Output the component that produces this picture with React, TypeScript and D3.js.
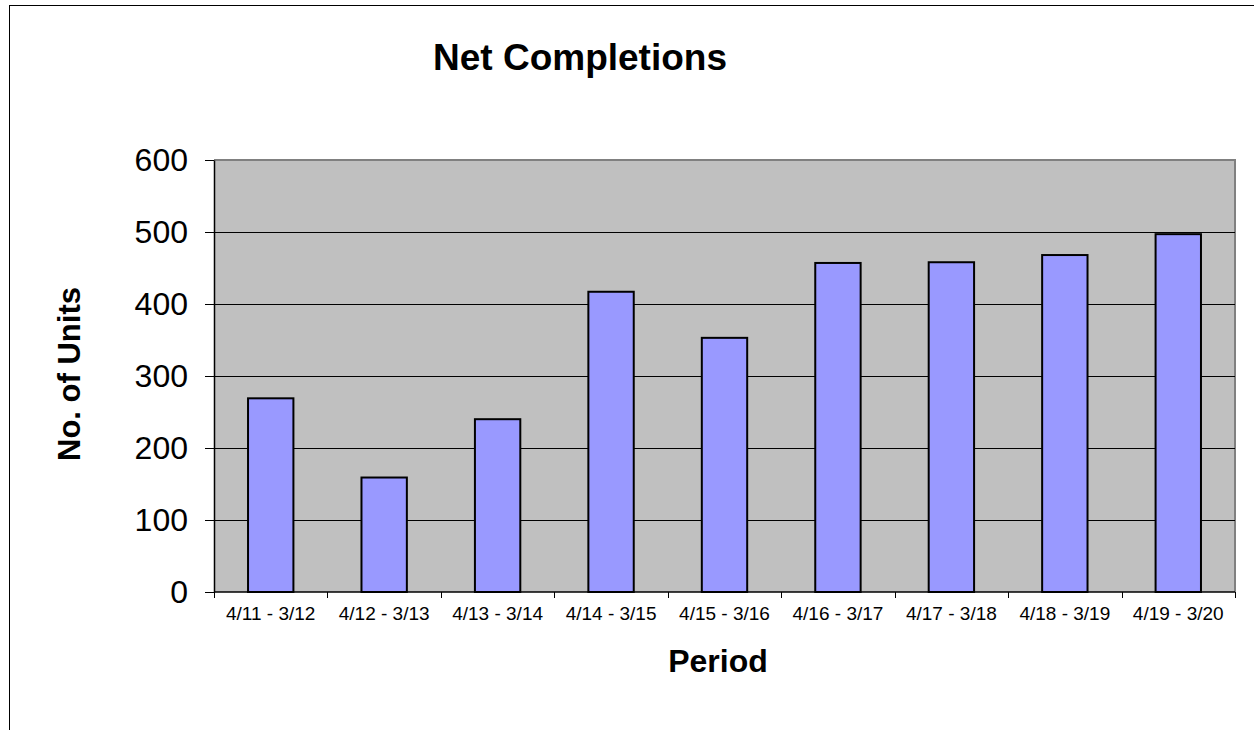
import { useEffect, useRef } from 'react';
import * as d3 from 'd3';

const periods = [
  '4/11 - 3/12', '4/12 - 3/13', '4/13 - 3/14', '4/14 - 3/15', '4/15 - 3/16',
  '4/16 - 3/17', '4/17 - 3/18', '4/18 - 3/19', '4/19 - 3/20',
];
const units = [269, 159, 240, 417, 353, 457, 458, 468, 497];
const yTicks = [0, 100, 200, 300, 400, 500, 600];

export default function App() {
  const ref = useRef<SVGSVGElement>(null);

  useEffect(() => {
    document.body.style.margin = '0';
    const svgEl = ref.current;
    if (!svgEl) return;
    const svg = d3.select(svgEl);
    svg.selectAll('*').remove();

    const W = 1254, H = 730;
    const left = 214, right = 1235, top = 160, bottom = 592;
    const font = '"Liberation Sans", Arial, sans-serif';

    // outer chart border
    svg.append('rect').attr('x', 9.5).attr('y', 5.5).attr('width', W + 20).attr('height', H + 20)
      .attr('fill', '#fff').attr('stroke', '#000').attr('stroke-width', 1);

    const x = d3.scaleBand().domain(periods).range([left, right]).paddingInner(0.6).paddingOuter(0.3);
    const y = d3.scaleLinear().domain([0, 600]).range([bottom, top]);

    // plot area
    svg.append('rect').attr('x', left).attr('y', top).attr('width', right - left).attr('height', bottom - top)
      .attr('fill', '#c0c0c0');
    svg.append('path')
      .attr('d', `M${left},${top}H${right}V${bottom}`)
      .attr('fill', 'none').attr('stroke', '#808080').attr('stroke-width', 2);

    // gridlines
    svg.append('g').selectAll('line').data(yTicks.filter(t => t > 0 && t < 600)).enter().append('line')
      .attr('x1', left).attr('x2', right)
      .attr('y1', d => Math.round(y(d)) + 0.5).attr('y2', d => Math.round(y(d)) + 0.5)
      .attr('stroke', '#000').attr('stroke-width', 1);

    // bars
    svg.append('g').selectAll('rect').data(units).enter().append('rect')
      .attr('x', (_, i) => x(periods[i])!)
      .attr('width', x.bandwidth())
      .attr('y', d => y(d))
      .attr('height', d => bottom - y(d))
      .attr('fill', '#9999ff').attr('stroke', '#000').attr('stroke-width', 2);

    // y axis
    svg.append('g').attr('transform', `translate(${left},0)`)
      .call(d3.axisLeft(y).tickValues(yTicks).tickSize(9).tickPadding(17).tickSizeOuter(0))
      .call(g => g.select('.domain').attr('stroke', '#000').attr('stroke-width', 1.5))
      .call(g => g.selectAll('.tick line').attr('stroke', '#000'))
      .call(g => g.selectAll('.tick text').attr('font-family', font).attr('font-size', 32).attr('fill', '#000'));

    // x axis, ticks at category boundaries
    const step = x.step();
    const boundaries = d3.range(periods.length + 1).map(i => x(periods[0])! - step * 0.3 + i * step);
    const xa = svg.append('g');
    xa.append('line').attr('x1', left).attr('x2', right).attr('y1', bottom).attr('y2', bottom)
      .attr('stroke', '#000').attr('stroke-width', 1.5);
    xa.selectAll('.bt').data(boundaries).enter().append('line')
      .attr('x1', d => Math.round(d) + 0.5).attr('x2', d => Math.round(d) + 0.5)
      .attr('y1', bottom).attr('y2', bottom + 6).attr('stroke', '#000');
    xa.selectAll('text').data(periods).enter().append('text')
      .attr('x', d => x(d)! + x.bandwidth() / 2).attr('y', 620)
      .attr('text-anchor', 'middle').attr('font-family', font).attr('font-size', 19)
      .text(d => d);

    // titles
    svg.append('text').attr('x', 580).attr('y', 70).attr('text-anchor', 'middle')
      .attr('font-family', font).attr('font-weight', 'bold').attr('font-size', 37).text('Net Completions');
    svg.append('text').attr('x', 718).attr('y', 672).attr('text-anchor', 'middle')
      .attr('font-family', font).attr('font-weight', 'bold').attr('font-size', 32).text('Period');
    svg.append('text').attr('transform', `translate(80,374) rotate(-90)`).attr('text-anchor', 'middle')
      .attr('font-family', font).attr('font-weight', 'bold').attr('font-size', 31).text('No. of Units');
  }, []);

  return <svg ref={ref} width={1254} height={730} style={{ display: 'block' }} />;
}
